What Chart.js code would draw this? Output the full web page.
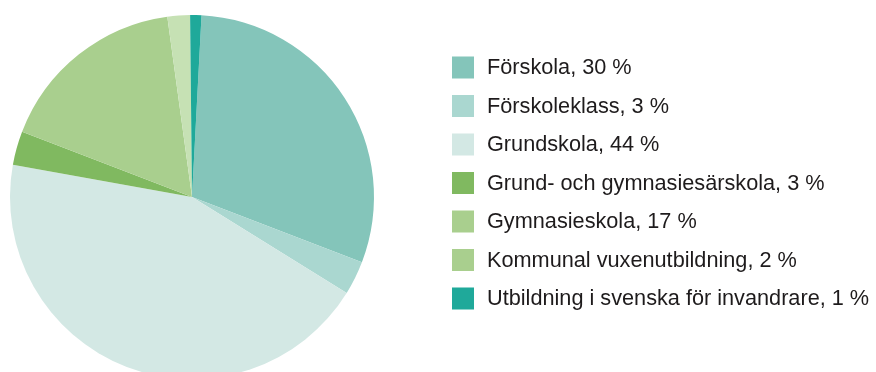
<!DOCTYPE html>
<html lang="sv">
<head>
<meta charset="utf-8">
<title>Kostnader per skolform</title>
<script src="https://cdn.jsdelivr.net/npm/chart.js@4/dist/chart.umd.min.js"></script>
<style>
  html, body { margin: 0; padding: 0; background: #fff; overflow: hidden; }
  #wrap { position: relative; width: 876px; height: 400px; }
</style>
</head>
<body>
<div id="wrap"><canvas id="pie" width="876" height="400"></canvas></div>
<script>
// Andel per skolform (procent)
const categories = [
  'Förskola',
  'Förskoleklass',
  'Grundskola',
  'Grund- och gymnasiesärskola',
  'Gymnasieskola',
  'Kommunal vuxenutbildning',
  'Utbildning i svenska för invandrare'
];
const shares = [30, 3, 44, 3, 17, 2, 1];

const sliceColors = ['#84C5BA', '#AAD7D0', '#D3E8E4', '#80B960', '#A9CF8E', '#C6E1B4', '#1FA99A'];
const keyColors   = ['#84C5BA', '#AAD7D0', '#D3E8E4', '#80B960', '#A9CF8E', '#A9CF8E', '#1FA99A'];

// Förklaring till höger om cirkeln
const sideLegend = {
  id: 'sideLegend',
  afterDraw(chart) {
    const ctx = chart.ctx;
    const labels = chart.data.labels;
    const values = chart.data.datasets[0].data;
    ctx.save();
    ctx.font = '21.7px "Liberation Sans", Arial, sans-serif';
    ctx.textBaseline = 'middle';
    ctx.textAlign = 'left';
    labels.forEach((name, i) => {
      const cy = 67.5 + i * 38.5;
      ctx.fillStyle = keyColors[i];
      ctx.fillRect(452, cy - 11, 22, 22);
      ctx.fillStyle = '#1E1B1C';
      ctx.fillText(name + ', ' + values[i] + ' %', 487, cy + 1);
    });
    ctx.restore();
  }
};

new Chart(document.getElementById('pie'), {
  type: 'pie',
  data: {
    labels: categories,
    datasets: [{
      data: shares,
      backgroundColor: sliceColors,
      borderWidth: 0,
      hoverOffset: 0
    }]
  },
  options: {
    responsive: false,
    animation: false,
    radius: 182,
    rotation: 3,
    layout: { padding: { left: 10, top: 15, right: 502, bottom: 21 } },
    plugins: {
      legend: { display: false },
      tooltip: { enabled: false }
    }
  },
  plugins: [sideLegend]
});
</script>
</body>
</html>
